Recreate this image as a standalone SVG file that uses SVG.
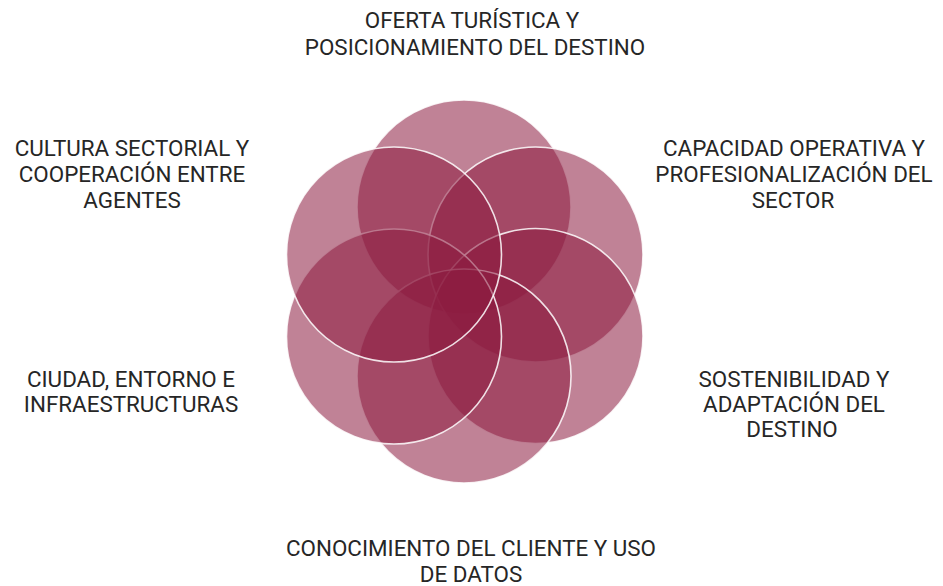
<svg xmlns="http://www.w3.org/2000/svg" width="943" height="586" viewBox="0 0 943 586">
<style>
.c{fill:#8c1c40;fill-opacity:0.55;stroke:#ffffff;stroke-width:1.6;stroke-opacity:0.85}
.t{font-family:Roboto,"Liberation Sans",sans-serif;font-size:22.4px;fill:#262626;text-anchor:middle}
</style>
<rect width="943" height="586" fill="#ffffff"/>
<g id="circles">
<g id="c-top"><circle class="c" cx="464" cy="207" r="107"/></g>
<g id="c-ur"><circle class="c" cx="535.5" cy="254.5" r="107.5"/></g>
<g id="c-lr"><circle class="c" cx="535.5" cy="336" r="107.5"/></g>
<g id="c-bottom"><circle class="c" cx="464" cy="376" r="107"/></g>
<g id="c-ll"><circle class="c" cx="394" cy="336.5" r="107.5"/></g>
<g id="c-ul"><circle class="c" cx="394" cy="254.5" r="107.5"/></g>
</g>
<g id="connectors"></g>
<g id="n-top"><text class="t" x="472" y="28">OFERTA TURÍSTICA Y</text><text class="t" x="475" y="55">POSICIONAMIENTO DEL DESTINO</text></g>
<g id="n-ul"><text class="t" x="132" y="156">CULTURA SECTORIAL Y</text><text class="t" x="132" y="182">COOPERACIÓN ENTRE</text><text class="t" x="132" y="208">AGENTES</text></g>
<g id="n-ur"><text class="t" x="794" y="156">CAPACIDAD OPERATIVA Y</text><text class="t" x="794" y="182">PROFESIONALIZACIÓN DEL</text><text class="t" x="793" y="208">SECTOR</text></g>
<g id="n-ll"><text class="t" x="131" y="387">CIUDAD, ENTORNO E</text><text class="t" x="131" y="412">INFRAESTRUCTURAS</text></g>
<g id="n-lr"><text class="t" x="794" y="387">SOSTENIBILIDAD Y</text><text class="t" x="794" y="412">ADAPTACIÓN DEL</text><text class="t" x="792" y="437">DESTINO</text></g>
<g id="n-bottom"><text class="t" x="471" y="556">CONOCIMIENTO DEL CLIENTE Y USO</text><text class="t" x="471" y="582">DE DATOS</text></g>
</svg>
